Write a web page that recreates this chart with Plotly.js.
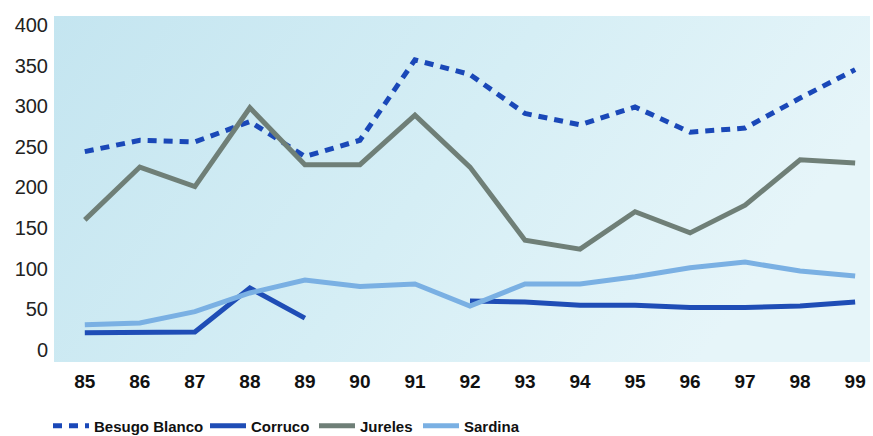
<!DOCTYPE html>
<html><head><meta charset="utf-8">
<script src="https://cdn.plot.ly/plotly-3.0.1.min.js"></script>
<style>html,body{margin:0;padding:0;background:#fff}#c{width:873px;height:436px}</style>
</head><body><div id="c"></div>
<script>
const years = ['85','86','87','88','89','90','91','92','93','94','95','96','97','98','99'];
const besugoBlanco = [244,258,256,281,238,258,357,339,291,277,299,268,273,310,345];
const corruco = [21,21,22,76,39,null,null,60,59,55,55,52,52,54,59];
const jureles = [160,225,201,298,228,228,289,225,135,124,170,144,178,234,230];
const sardina = [31,33,47,70,86,78,81,54,81,81,90,101,108,97,91];
const yTicks = [0,50,100,150,200,250,300,350,400];
const seriesNames = ['Besugo Blanco','Corruco','Jureles','Sardina'];

const legFont = {family: 'Liberation Sans, Arial', size: 15, color: '#111', weight: 'bold'};
function leg(px) {
  return {orientation: 'h', x: (px - 54) / 816, xanchor: 'left', y: -0.185, yanchor: 'middle',
    font: legFont, itemwidth: 36, bgcolor: 'rgba(0,0,0,0)'};
}

const traces = [
  {x: years, y: besugoBlanco, name: seriesNames[0], mode: 'lines', legend: 'legend',
   line: {color: '#1a48b8', width: 5, dash: '9px,7px'}},
  {x: years, y: corruco, name: seriesNames[1], mode: 'lines', connectgaps: false, legend: 'legend2',
   line: {color: '#1f4db6', width: 5}},
  {x: years, y: jureles, name: seriesNames[2], mode: 'lines', legend: 'legend3',
   line: {color: '#6f7f77', width: 5}},
  {x: years, y: sardina, name: seriesNames[3], mode: 'lines', legend: 'legend4',
   line: {color: '#7ab0e3', width: 5}}
];

const grad = 'data:image/svg+xml;utf8,' + encodeURIComponent(
  '<svg xmlns="http://www.w3.org/2000/svg" width="400" height="200" preserveAspectRatio="none">' +
  '<defs><linearGradient id="g" x1="0" y1="0" x2="1" y2="0.3">' +
  '<stop offset="0" stop-color="#c4e5f0"/><stop offset="0.55" stop-color="#d5eef5"/>' +
  '<stop offset="1" stop-color="#e6f5f9"/></linearGradient></defs>' +
  '<rect width="400" height="200" fill="url(#g)"/></svg>');

const layout = {
  width: 873, height: 436,
  margin: {l: 54, r: 3, t: 16, b: 74, autoexpand: false},
  paper_bgcolor: '#ffffff',
  plot_bgcolor: '#d0ebf3',
  images: [{source: grad, xref: 'paper', yref: 'paper', x: 0, y: 1, sizex: 1, sizey: 1,
    xanchor: 'left', yanchor: 'top', sizing: 'stretch', layer: 'below'}],
  showlegend: true,
  legend: leg(48), legend2: leg(205), legend3: leg(314), legend4: leg(418),
  xaxis: {type: 'category', range: [-0.56, 14.27], showgrid: false, zeroline: false, showline: false,
    ticks: '', ticklabelstandoff: 6,
    tickfont: {family: 'Liberation Sans, Arial', size: 19, color: '#111', weight: 'bold'}},
  yaxis: {range: [-15, 411], tickvals: yTicks, ticktext: yTicks.map(String), showgrid: false,
    zeroline: false, showline: false, ticks: '', ticklabelstandoff: 5,
    tickfont: {family: 'Liberation Sans, Arial', size: 20, color: '#222'}}
};
Plotly.newPlot('c', traces, layout, {displayModeBar: false, staticPlot: true});
</script></body></html>
